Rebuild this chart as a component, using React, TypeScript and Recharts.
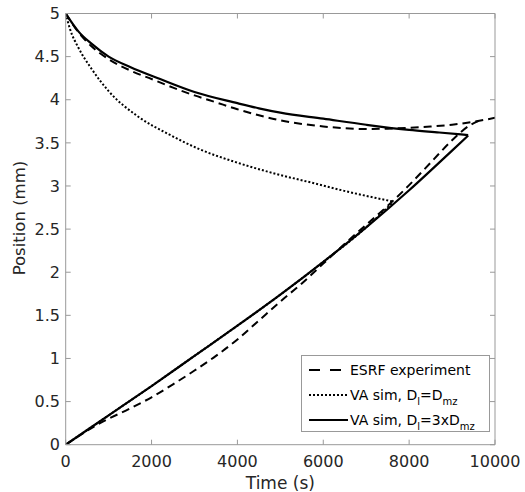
import React from 'react';
import { LineChart, Line, XAxis, YAxis, Legend } from 'recharts';

// [time (s), position (mm)]
const esrfLower = [
  [0, 0], [800, 0.25], [1500, 0.42], [2000, 0.55], [2500, 0.7], [3000, 0.86], [3500, 1.03],
  [4000, 1.22], [4500, 1.44], [5000, 1.66], [5500, 1.87], [6000, 2.1], [6500, 2.33],
  [7000, 2.55], [7500, 2.77], [8000, 3.01], [8500, 3.27], [9000, 3.53], [9400, 3.7], [9700, 3.77],
];
const esrfUpper = [
  [0, 5], [300, 4.78], [600, 4.62], [1000, 4.47], [1500, 4.34], [2000, 4.24], [2500, 4.14],
  [3000, 4.05], [3500, 3.97], [4000, 3.89], [4500, 3.82], [5000, 3.76], [5500, 3.72], [6000, 3.69],
  [6500, 3.67], [7000, 3.66], [7500, 3.665], [8000, 3.675], [8500, 3.69], [9000, 3.71],
  [9500, 3.745], [10000, 3.79],
];
const simEqLower = [
  [0, 0], [1000, 0.34], [2000, 0.68], [3000, 1.03], [4000, 1.38], [5000, 1.74], [6000, 2.12],
  [7000, 2.52], [7620, 2.81],
];
const simEqUpper = [
  [0, 5], [100, 4.82], [300, 4.6], [600, 4.36], [1000, 4.1], [1700, 3.8], [2400, 3.6],
  [3100, 3.43], [4000, 3.27], [4900, 3.14], [5800, 3.03], [6600, 2.93], [7620, 2.82],
];
const sim3xLower = [
  [0, 0], [1000, 0.34], [2000, 0.68], [3000, 1.03], [4000, 1.38], [5000, 1.74], [6000, 2.12],
  [7000, 2.52], [8000, 2.95], [9000, 3.41], [9375, 3.585],
];
const sim3xUpper = [
  [0, 5], [300, 4.79], [600, 4.65], [1000, 4.5], [1500, 4.38], [2200, 4.24], [3000, 4.09],
  [4000, 3.96], [4500, 3.9], [5000, 3.85], [6000, 3.78], [7000, 3.71], [8000, 3.65],
  [8700, 3.62], [9375, 3.59],
];

const xTicks = [0, 2000, 4000, 6000, 8000, 10000];
const yTicks = [0, 0.5, 1, 1.5, 2, 2.5, 3, 3.5, 4, 4.5, 5];

const toPts = (arr: number[][]) => arr.map(([t, pos]) => ({ t, pos }));

const AXIS = '#999';
const TXT = '#262626';
const FONT = '"DejaVu Sans", sans-serif';
const TICK_LEN = 5;

// MATLAB-style ticks: short marks pointing into the plot box
const BottomTick = ({ x, y, payload }: any) => (
  <g>
    <line x1={x} x2={x} y1={y} y2={y - TICK_LEN} stroke={AXIS} />
    <text x={x} y={y + 11.3} dy="0.71em" textAnchor="middle" fill={TXT} fontSize={16} fontFamily={FONT}>
      {payload.value}
    </text>
  </g>
);
const LeftTick = ({ x, y, payload }: any) => (
  <g>
    <line x1={x} x2={x + TICK_LEN} y1={y} y2={y} stroke={AXIS} />
    <text x={x - 5.7} y={y} dy="0.355em" textAnchor="end" fill={TXT} fontSize={16} fontFamily={FONT}>
      {payload.value}
    </text>
  </g>
);
const TopTick = ({ x, y }: any) => <line x1={x} x2={x} y1={y} y2={y + TICK_LEN} stroke={AXIS} />;
const RightTick = ({ x, y }: any) => <line x1={x} x2={x - TICK_LEN} y1={y} y2={y} stroke={AXIS} />;

const Sub = ({ children }: { children: React.ReactNode }) => (
  <span style={{ fontSize: 10, position: 'relative', top: 5 }}>{children}</span>
);

const legendRows = [
  { dash: '11 10', width: 2, label: <>ESRF experiment</> },
  { dash: '2 2', width: 2, label: <>VA sim, D<Sub>l</Sub>=D<Sub>mz</Sub></> },
  { dash: undefined, width: 2.2, label: <>VA sim, D<Sub>l</Sub>=3xD<Sub>mz</Sub></> },
];

const renderLegend = () => (
  <div
    style={{
      position: 'relative', width: 187, height: 75, border: `1px solid ${AXIS}`,
      background: '#fff', fontFamily: FONT, fontSize: 14, color: '#000',
    }}
  >
    {legendRows.map((r, i) => (
      <div key={i} style={{ position: 'absolute', left: 0, top: 14 + i * 25 - 9, height: 18, width: 187 }}>
        <svg width={46} height={18} style={{ position: 'absolute', left: 0, top: 0 }}>
          <line x1={7} x2={46} y1={9} y2={9} stroke="#000" strokeWidth={r.width} strokeDasharray={r.dash} />
        </svg>
        <span style={{ position: 'absolute', left: 48, top: 0, lineHeight: '18px', whiteSpace: 'nowrap' }}>
          {r.label}
        </span>
      </div>
    ))}
  </div>
);

const App: React.FC = () => {
  return (
    <div style={{ position: 'absolute', left: 0, top: 0 }}>
      <LineChart
        width={525}
        height={492}
        margin={{ top: 13.5, right: 30, bottom: 0, left: 0 }}
        style={{ fontFamily: FONT, background: '#fff' }}
      >
        <XAxis
          dataKey="t"
          type="number"
          domain={[0, 10000]}
          ticks={xTicks}
          interval={0}
          allowDataOverflow
          height={47.3}
          tickLine={false}
          tickSize={0}
          tickMargin={0}
          stroke={AXIS}
          tick={BottomTick}
          label={{ value: 'Time (s)', position: 'insideBottom', offset: 3, fill: TXT, fontSize: 17 }}
        />
        <XAxis xAxisId="top" dataKey="t" orientation="top" mirror type="number" domain={[0, 10000]}
          allowDataOverflow ticks={xTicks} interval={0} height={20} tickSize={0} tickMargin={0}
          tickLine={false} stroke={AXIS} tick={TopTick} />
        <YAxis
          type="number"
          domain={[0, 5]}
          ticks={yTicks}
          interval={0}
          allowDataOverflow
          width={65.7}
          tickLine={false}
          tickSize={0}
          tickMargin={0}
          stroke={AXIS}
          tick={LeftTick}
          label={{
            content: ({ viewBox }: any) => {
              const cx = 20;
              const cy = viewBox.y + viewBox.height / 2 - 11;
              return (
                <text x={cx} y={cy} transform={`rotate(-90 ${cx} ${cy})`} textAnchor="middle"
                  dominantBaseline="central" fill={TXT} fontSize={16.5} fontFamily={FONT}>
                  Position (mm)
                </text>
              );
            },
          }}
        />
        <YAxis yAxisId="right" orientation="right" mirror type="number" domain={[0, 5]} allowDataOverflow
          ticks={yTicks} interval={0} width={20} tickSize={0} tickMargin={0}
          tickLine={false} stroke={AXIS} tick={RightTick} />
        {/* invisible copy so the top/right box axes carry data */}
        <Line data={toPts(sim3xLower)} dataKey="pos" xAxisId="top" yAxisId="right" stroke="none"
          dot={false} legendType="none" isAnimationActive={false} />
        <Line data={toPts(simEqLower)} dataKey="pos" type="monotone" stroke="#000" strokeWidth={2}
          strokeDasharray="2 2" dot={false} isAnimationActive={false} />
        <Line data={toPts(simEqUpper)} dataKey="pos" type="monotone" stroke="#000" strokeWidth={2}
          strokeDasharray="2 2" dot={false} isAnimationActive={false} />
        <Line data={toPts(esrfLower)} dataKey="pos" type="monotone" stroke="#000" strokeWidth={2}
          strokeDasharray="8 5" dot={false} isAnimationActive={false} />
        <Line data={toPts(esrfUpper)} dataKey="pos" type="monotone" stroke="#000" strokeWidth={2}
          strokeDasharray="8 5" dot={false} isAnimationActive={false} />
        <Line data={toPts(sim3xLower)} dataKey="pos" type="monotone" stroke="#000" strokeWidth={2.2}
          dot={false} isAnimationActive={false} />
        <Line data={toPts(sim3xUpper)} dataKey="pos" type="monotone" stroke="#000" strokeWidth={2.2}
          dot={false} isAnimationActive={false} />
        <Legend
          layout="horizontal"
          verticalAlign="middle"
          align="center"
          content={renderLegend}
          wrapperStyle={{ left: 301, top: 355, width: 189, height: 77 }}
        />
      </LineChart>
    </div>
  );
};

export default App;
